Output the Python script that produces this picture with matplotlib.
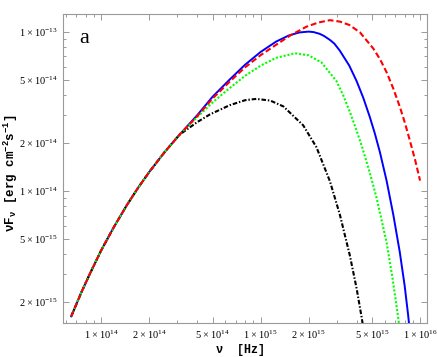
import matplotlib
matplotlib.use("Agg")
import matplotlib.pyplot as plt
from matplotlib.ticker import FixedLocator, LogLocator, NullFormatter, FixedFormatter

# ---------------- data ----------------
nu_common = [6.5e13, 7.5e13, 8.5e13, 1.0e14, 1.2e14, 1.45e14, 1.7e14, 2.0e14, 2.5e14, 3.1e14]
f_common = [1.63e-15, 2.29e-15, 3.01e-15, 4.22e-15, 5.90e-15, 8.13e-15, 1.04e-14, 1.31e-14, 1.75e-14, 2.25e-14]

nu_blue = [4.0e14, 5.0e14, 6.4e14, 8.0e14, 1.0e15, 1.25e15, 1.5e15, 1.75e15, 2.0e15, 2.15e15,
           2.35e15, 2.5e15, 2.72e15, 2.9e15, 3.14e15, 3.6e15, 4.0e15, 4.4e15, 4.84e15, 5.2e15,
           5.6e15, 6.17e15, 6.8e15, 7.46e15, 8.0e15, 8.4e15, 8.71e15]
f_blue = [2.98e-14, 3.9e-14, 5.0e-14, 6.2e-14, 7.45e-14, 8.65e-14, 9.45e-14, 9.88e-14, 1.0e-13, 9.93e-14,
          9.68e-14, 9.39e-14, 8.87e-14, 8.41e-14, 7.59e-14, 6.11e-14, 4.89e-14, 3.85e-14, 2.91e-14, 2.30e-14,
          1.75e-14, 1.156e-14, 7.05e-15, 4.13e-15, 2.55e-15, 1.69e-15, 1.19e-15]

nu_red = [4.0e14, 5.0e14, 6.4e14, 8.0e14, 1.0e15, 1.25e15, 1.53e15, 1.94e15, 2.3e15, 2.72e15,
          3.14e15, 3.6e15, 4.2e15, 5.08e15, 5.6e15, 6.17e15, 6.8e15, 7.46e15, 8.0e15, 8.63e15,
          9.3e15, 1.0e16]
f_red = [2.94e-14, 3.8e-14, 4.85e-14, 5.97e-14, 7.11e-14, 8.26e-14, 9.44e-14, 1.074e-13, 1.14e-13, 1.18e-13,
         1.156e-13, 1.101e-13, 9.89e-14, 7.85e-14, 6.73e-14, 5.55e-14, 4.38e-14, 3.38e-14, 2.71e-14, 2.07e-14,
         1.57e-14, 1.16e-14]

nu_green = [4.0e14, 5.0e14, 6.4e14, 8.0e14, 1.0e15, 1.25e15, 1.64e15, 2.0e15, 2.41e15, 2.99e15,
            3.3e15, 3.63e15, 4.0e15, 4.3e15, 4.84e15, 5.34e15, 6.17e15, 6.7e15, 7.3e15, 7.5e15]
f_green = [2.9e-14, 3.59e-14, 4.42e-14, 5.28e-14, 6.11e-14, 6.84e-14, 7.31e-14, 7.10e-14, 6.40e-14, 4.89e-14,
           3.97e-14, 3.13e-14, 2.39e-14, 1.93e-14, 1.30e-14, 9.02e-15, 4.74e-15, 2.88e-15, 1.59e-15, 1.29e-15]

nu_black = [4.0e14, 4.81e14, 6.4e14, 8.0e14, 9.4e14, 1.15e15, 1.39e15, 1.85e15, 2.24e15, 2.72e15,
            3.14e15, 3.63e15, 4.0e15, 4.3e15, 4.47e15]
f_black = [2.70e-14, 3.02e-14, 3.45e-14, 3.71e-14, 3.78e-14, 3.69e-14, 3.39e-14, 2.58e-14, 1.88e-14, 1.15e-14,
           7.10e-15, 3.92e-15, 2.44e-15, 1.61e-15, 1.26e-15]

x_ticks = [1e14, 2e14, 5e14, 1e15, 2e15, 5e15, 1e16]
x_labels = [r"$\mathregular{1\times10^{14}}$", r"$\mathregular{2\times10^{14}}$", r"$\mathregular{5\times10^{14}}$",
            r"$\mathregular{1\times10^{15}}$", r"$\mathregular{2\times10^{15}}$", r"$\mathregular{5\times10^{15}}$",
            r"$\mathregular{1\times10^{16}}$"]
y_ticks = [2e-15, 5e-15, 1e-14, 2e-14, 5e-14, 1e-13]
y_labels = [r"$\mathregular{2\times10^{-15}}$", r"$\mathregular{5\times10^{-15}}$", r"$\mathregular{1\times10^{-14}}$",
            r"$\mathregular{2\times10^{-14}}$", r"$\mathregular{5\times10^{-14}}$", r"$\mathregular{1\times10^{-13}}$"]

# ---------------- figure ----------------
fig = plt.figure(figsize=(4.37, 3.57), dpi=100)
ax = fig.add_axes([63/437, 1-323/357, (427.3-63)/437, (323-14)/357])

def full(nu, f):
    return list(nu_common) + list(nu), list(f_common) + list(f)

x, y = full(nu_black, f_black)
ax.plot(x, y, color="black", lw=1.5, linestyle=(0, (2.2, 0.9, 0.7, 0.9)), zorder=3)
x, y = full(nu_green, f_green)
ax.plot(x, y, color="#00ff00", lw=1.5, linestyle=(0, (1.0, 0.9)), zorder=4)
x, y = full(nu_red, f_red)
ax.plot(x, y, color="red", lw=1.5, linestyle=(0, (2.8, 1.4)), zorder=5)
x, y = full(nu_blue, f_blue)
ax.plot(x, y, color="blue", lw=1.4, linestyle="-", zorder=2)

ax.set_xscale("log")
ax.set_yscale("log")
ax.set_xlim(5.77e13, 1.11e16)
ax.set_ylim(1.48e-15, 1.29e-13)

ax.xaxis.set_major_locator(FixedLocator(x_ticks))
ax.xaxis.set_major_formatter(FixedFormatter(x_labels))
ax.yaxis.set_major_locator(FixedLocator(y_ticks))
ax.yaxis.set_major_formatter(FixedFormatter(y_labels))
ax.xaxis.set_minor_locator(LogLocator(base=10, subs=(3, 4, 6, 7, 8, 9), numticks=20))
ax.yaxis.set_minor_locator(LogLocator(base=10, subs=(3, 4, 6, 7, 8, 9), numticks=20))
ax.xaxis.set_minor_formatter(NullFormatter())
ax.yaxis.set_minor_formatter(NullFormatter())

gray = "#9a9a9a"
ax.tick_params(which="both", direction="in", top=True, right=True, color=gray, width=0.7)
ax.tick_params(which="major", length=4, labelsize=7.5, pad=4)
ax.tick_params(which="minor", length=2)
for lab in ax.get_xticklabels() + ax.get_yticklabels():
    lab.set_fontfamily("Liberation Serif")
for s in ax.spines.values():
    s.set_color(gray)
    s.set_linewidth(0.8)

ax.set_xlabel(r"ν  [Hz]", family="Liberation Mono", weight="bold", size=8.5)
ax.set_ylabel(r"νF$\mathregular{_{ν}}$ [erg cm$\mathregular{^{-2}}$s$\mathregular{^{-1}}$]",
              family="Liberation Mono", weight="bold", size=9)
ax.xaxis.set_label_coords(0.486, -0.068)
ax.yaxis.set_label_coords(-0.118, 0.485)

ax.text(0.058, 0.922, "a", transform=ax.transAxes, ha="center", va="center",
        fontsize=16, family="Liberation Serif")

fig.savefig("out.png", dpi=100)
